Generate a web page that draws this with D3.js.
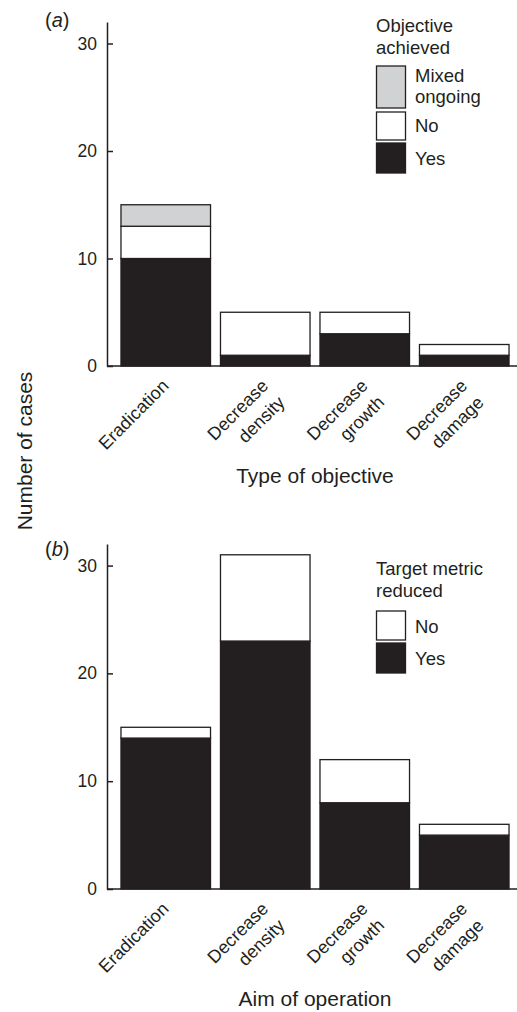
<!DOCTYPE html>
<html>
<head>
<meta charset="utf-8">
<script src="https://cdn.jsdelivr.net/npm/d3@7"></script>
<style>
  html, body { margin: 0; padding: 0; background: #fff; }
  svg { display: block; }
  text { font-family: "Liberation Sans", Arial, Helvetica, sans-serif; fill: #231f20; }
</style>
</head>
<body>
<svg id="chart" width="517" height="1012"></svg>
<script>
// ---- data ----
const categories = ["Eradication", "Decrease density", "Decrease growth", "Decrease damage"];
const categoryLabelLines = [["Eradication"], ["Decrease", "density"], ["Decrease", "growth"], ["Decrease", "damage"]];
const yTickValues = [0, 10, 20, 30];

// panel (a): Objective achieved
const aYes = [10, 1, 3, 1];
const aNo = [3, 4, 2, 1];
const aMixed = [2, 0, 0, 0];
const aSeriesKeys = ["Yes", "No", "Mixed ongoing"];
const aLegendTitle = ["Objective", "achieved"];

// panel (b): Target metric reduced
const bYes = [14, 23, 8, 5];
const bNo = [1, 8, 4, 1];
const bSeriesKeys = ["Yes", "No"];
const bLegendTitle = ["Target metric", "reduced"];

const seriesColor = { "Yes": "#231f20", "No": "#ffffff", "Mixed ongoing": "#d1d2d4" };
const ink = "#231f20";

const svg = d3.select("#chart");

function panel(opts) {
  const g = svg.append("g");
  const x = d3.scaleBand().domain(categories).range([116, 514]).paddingInner(0.1).paddingOuter(0.05);
  const y = d3.scaleLinear().domain([0, 32]).range([opts.y0, opts.y1]);

  const rows = categories.map((c, i) => {
    const r = { cat: c };
    opts.keys.forEach((k, j) => r[k] = opts.values[j][i]);
    return r;
  });
  const stacked = d3.stack().keys(opts.keys)(rows);

  g.selectAll("g.series").data(stacked).join("g")
    .attr("class", "series")
    .attr("fill", d => seriesColor[d.key])
    .selectAll("rect").data(d => d.filter(p => p[1] - p[0] > 0)).join("rect")
    .attr("x", d => x(d.data.cat))
    .attr("width", x.bandwidth())
    .attr("y", d => y(d[1]))
    .attr("height", d => y(d[0]) - y(d[1]))
    .attr("stroke", ink)
    .attr("stroke-width", 1.3);

  // y axis
  const yAxis = d3.axisLeft(y).tickValues(yTickValues).tickSizeInner(-6).tickSizeOuter(0).tickPadding(10);
  const ya = g.append("g").attr("transform", "translate(107,0)").call(yAxis);
  ya.select(".domain").attr("stroke", ink).attr("stroke-width", 1.5);
  ya.selectAll(".tick line").attr("stroke", ink).attr("stroke-width", 1.5);
  ya.selectAll(".tick text").attr("font-size", 17.5).attr("fill", ink)
    .style("font-family", '"Liberation Sans", Arial, sans-serif');

  // x axis baseline
  g.append("line").attr("x1", 107).attr("x2", 517).attr("y1", y(0)).attr("y2", y(0))
    .attr("stroke", ink).attr("stroke-width", 1.5);

  // category labels
  categories.forEach((c, i) => {
    const cx = x(c) + x.bandwidth() / 2;
    const t = g.append("text")
      .attr("transform", `translate(${cx + 4},${y(0) + 21}) rotate(-45)`)
      .attr("text-anchor", "end")
      .attr("font-size", 18);
    categoryLabelLines[i].forEach((ln, k) => {
      t.append("tspan").attr("x", 0).attr("dy", k === 0 ? 0 : "1.3em").text(ln);
    });
  });

  // x title
  g.append("text").attr("x", 315).attr("y", opts.xTitleY).attr("text-anchor", "middle")
    .attr("font-size", 21).text(opts.xTitle);

  // panel letter
  const pl = g.append("text").attr("x", 45).attr("y", opts.letterY).attr("font-size", 20);
  pl.append("tspan").text("(");
  pl.append("tspan").attr("font-style", "italic").text(opts.letter);
  pl.append("tspan").text(")");

  // legend
  const lg = g.append("g");
  opts.legendTitle.forEach((t, k) => {
    lg.append("text").attr("x", 376).attr("y", opts.legTitleY + k * 22).attr("font-size", 18.5).text(t);
  });
  opts.legendItems.forEach(it => {
    lg.append("rect").attr("x", 376.5).attr("y", it.y0).attr("width", 29).attr("height", it.y1 - it.y0)
      .attr("fill", seriesColor[it.key]).attr("stroke", ink).attr("stroke-width", 1.3);
    it.lines.forEach((ln, k) => {
      lg.append("text").attr("x", 415).attr("y", it.textY + k * 21).attr("font-size", 18.5).text(ln);
    });
  });
}

panel({
  y0: 366, y1: 22,
  keys: aSeriesKeys,
  values: [aYes, aNo, aMixed],
  xTitle: "Type of objective", xTitleY: 483,
  letter: "a", letterY: 27,
  legendTitle: aLegendTitle, legTitleY: 32,
  legendItems: [
    { key: "Mixed ongoing", y0: 66, y1: 108, lines: ["Mixed", "ongoing"], textY: 82 },
    { key: "No", y0: 112, y1: 140, lines: ["No"], textY: 132 },
    { key: "Yes", y0: 143, y1: 173, lines: ["Yes"], textY: 164.5 }
  ]
});

panel({
  y0: 889, y1: 544,
  keys: bSeriesKeys,
  values: [bYes, bNo],
  xTitle: "Aim of operation", xTitleY: 1006,
  letter: "b", letterY: 556,
  legendTitle: bLegendTitle, legTitleY: 575,
  legendItems: [
    { key: "No", y0: 611, y1: 640, lines: ["No"], textY: 633 },
    { key: "Yes", y0: 643, y1: 673, lines: ["Yes"], textY: 665 }
  ]
});

// shared y title
svg.append("text")
  .attr("transform", "translate(32,451) rotate(-90)")
  .attr("text-anchor", "middle")
  .attr("font-size", 21)
  .text("Number of cases");
</script>
</body>
</html>
